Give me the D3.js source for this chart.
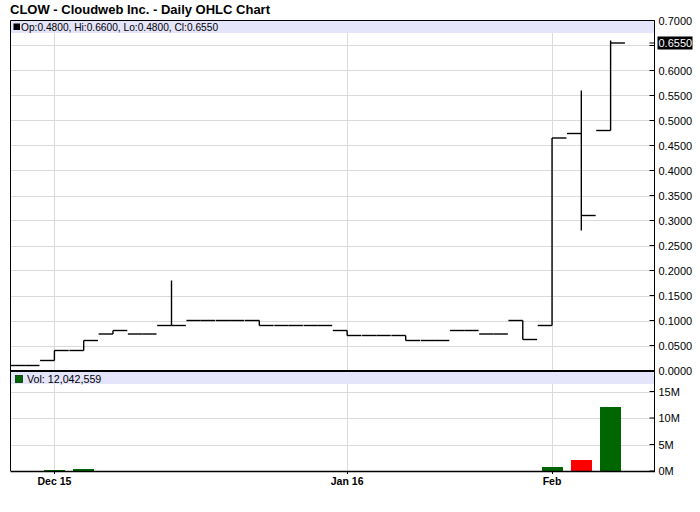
<!DOCTYPE html>
<html><head><meta charset="utf-8">
<script src="https://cdn.jsdelivr.net/npm/d3@7"></script>
<style>
html,body{margin:0;padding:0;background:#fff;}
svg{display:block;font-family:"Liberation Sans",Arial,sans-serif;}
</style></head>
<body>
<svg id="chart" width="700" height="512"></svg>
<script>
// ---- data ----
const dates = ["2014-12-12","2014-12-15","2014-12-16","2014-12-18","2014-12-19","2014-12-22","2014-12-23","2014-12-26","2014-12-30","2015-01-05","2015-01-09","2015-01-16","2015-01-20","2015-01-21","2015-01-22","2015-01-23","2015-01-26","2015-01-27","2015-02-02","2015-02-03","2015-02-04"];
const open  = [0.0100,0.0200,0.0400,0.0730,0.0730,0.0900,0.1000,0.1000,0.1000,0.0900,0.0900,0.0800,0.0700,0.0700,0.0600,0.0800,0.0730,0.1000,0.0900,0.4740,0.4800];
const high  = [0.0100,0.0400,0.0600,0.0800,0.0730,0.1800,0.1000,0.1000,0.1000,0.0900,0.0900,0.0800,0.0700,0.0700,0.0600,0.0800,0.0730,0.1000,0.4650,0.5600,0.6600];
const low   = [0.0100,0.0200,0.0400,0.0730,0.0730,0.0900,0.1000,0.1000,0.0900,0.0900,0.0900,0.0700,0.0700,0.0600,0.0600,0.0800,0.0730,0.0620,0.0900,0.2800,0.4800];
const close = [0.0100,0.0400,0.0600,0.0800,0.0730,0.0900,0.1000,0.1000,0.0900,0.0900,0.0900,0.0700,0.0700,0.0600,0.0600,0.0800,0.0730,0.0620,0.4650,0.3100,0.6550];
const volume = [15000,200000,420000,30000,10000,25000,20000,12000,18000,10000,15000,22000,10000,14000,9000,20000,12000,30000,760000,2080000,12042559];
const priceTicks = [0,0.05,0.1,0.15,0.2,0.25,0.3,0.35,0.4,0.45,0.5,0.55,0.6,0.65,0.7];
const volTicks = [0,5e6,10e6,15e6];
const xTickDates = ["2014-12-15","2015-01-16","2015-02-02"];
const xTickLabels = ["Dec 15","Jan 16","Feb"];
const title = "CLOW - Cloudweb Inc. - Daily OHLC Chart";

// ---- layout ----
const L = 10.5, R = 654.5, T = 20.5, SEP = 371, B = 471;
const svg = d3.select("#chart");
const n = dates.length;
const x = d3.scaleLinear().domain([-0.5, n + 0.5]).range([L, R]);
const step = x(1) - x(0);
const yP = d3.scaleLinear().domain([0, 0.7]).range([370.5, T]);
const yV = d3.scaleLinear().domain([0, 15e6]).range([B, 391.5]);
const gridC = "#dadada";
const last = n - 1;

// title
svg.append("text").attr("x", 10).attr("y", 14).attr("font-size", 13).attr("font-weight", "bold").text(title);

// grid - price
svg.append("g").selectAll("line").data(priceTicks.filter(v => v > 0 && v < 0.7)).join("line")
  .attr("x1", L).attr("x2", R).attr("y1", d => Math.round(yP(d)) + 0.5).attr("y2", d => Math.round(yP(d)) + 0.5)
  .attr("stroke", gridC).attr("stroke-width", 1);
// grid - volume
svg.append("g").selectAll("line").data(volTicks.filter(v => v > 0)).join("line")
  .attr("x1", L).attr("x2", R).attr("y1", d => Math.round(yV(d)) + 0.5).attr("y2", d => Math.round(yV(d)) + 0.5)
  .attr("stroke", gridC);
// vertical grid
const xIdx = xTickDates.map(d => dates.indexOf(d));
svg.append("g").selectAll("line").data(xIdx).join("line")
  .attr("x1", d => Math.round(x(d)) + 0.5).attr("x2", d => Math.round(x(d)) + 0.5)
  .attr("y1", T).attr("y2", B).attr("stroke", gridC);

// legend bands
svg.append("rect").attr("x", L + 0.5).attr("y", 21).attr("width", R - L - 1).attr("height", 12).attr("fill", "#e4e4fb");
svg.append("rect").attr("x", L + 0.5).attr("y", 372).attr("width", R - L - 1).attr("height", 12).attr("fill", "#e4e4fb");
svg.append("rect").attr("x", 13.5).attr("y", 23.5).attr("width", 6.5).attr("height", 6.5).attr("fill", "#000");
svg.append("text").attr("x", 21).attr("y", 31).attr("font-size", 10.2)
  .text(`Op:${open[last].toFixed(4)}, Hi:${high[last].toFixed(4)}, Lo:${low[last].toFixed(4)}, Cl:${close[last].toFixed(4)}`);
svg.append("rect").attr("x", 15.5).attr("y", 375.5).attr("width", 7).attr("height", 7).attr("fill", "#006600").attr("stroke", "#003300").attr("stroke-width", 0.8);
svg.append("text").attr("x", 27).attr("y", 382.5).attr("font-size", 10.7)
  .text("Vol: " + d3.format(",")(volume[last]));

// volume bars
const bw = step * 0.72;
svg.append("g").selectAll("rect").data(d3.range(n)).join("rect")
  .attr("x", i => x(i) - bw / 2).attr("width", bw)
  .attr("y", i => yV(volume[i])).attr("height", i => yV(0) - yV(volume[i]))
  .attr("fill", i => close[i] >= open[i] ? "#006600" : "#ff0000")
  .attr("shape-rendering", "crispEdges");

// OHLC bars
const g = svg.append("g").attr("stroke", "#000").attr("stroke-width", 1.4).attr("fill", "none");
const tick = step * 0.49;
g.selectAll("line.hl").data(d3.range(n).filter(i => high[i] !== low[i])).join("line").attr("class", "hl")
  .attr("x1", i => x(i)).attr("x2", i => x(i)).attr("y1", i => yP(high[i])).attr("y2", i => yP(low[i]));
g.selectAll("line.op").data(d3.range(n)).join("line").attr("class", "op")
  .attr("x1", i => x(i) - tick).attr("x2", i => x(i)).attr("y1", i => yP(open[i])).attr("y2", i => yP(open[i]));
g.selectAll("line.cl").data(d3.range(n)).join("line").attr("class", "cl")
  .attr("x1", i => x(i)).attr("x2", i => x(i) + tick).attr("y1", i => yP(close[i])).attr("y2", i => yP(close[i]));

// frame
svg.append("line").attr("x1", L).attr("x2", R).attr("y1", T).attr("y2", T).attr("stroke", "#000").attr("stroke-width", 1);
svg.append("line").attr("x1", L).attr("x2", L).attr("y1", T).attr("y2", B).attr("stroke", "#000").attr("stroke-width", 1);
svg.append("line").attr("x1", R).attr("x2", R).attr("y1", T).attr("y2", B).attr("stroke", "#000").attr("stroke-width", 1);
svg.append("line").attr("x1", L).attr("x2", R).attr("y1", SEP).attr("y2", SEP).attr("stroke", "#000").attr("stroke-width", 2);
svg.append("line").attr("x1", L).attr("x2", R + 0.5).attr("y1", B + 0.5).attr("y2", B + 0.5).attr("stroke", "#000").attr("stroke-width", 1.5);

// right price axis
const lc = yP(close[last]);
const pa = svg.append("g");
pa.selectAll("line").data(priceTicks).join("line")
  .attr("x1", R - 5).attr("x2", R).attr("y1", d => yP(d)).attr("y2", d => yP(d)).attr("stroke", "#000");
pa.selectAll("text").data(priceTicks.filter(d => Math.abs(yP(d) - lc) > 11)).join("text")
  .attr("x", R + 4).attr("y", d => yP(d) + 4).attr("font-size", 11).text(d => d.toFixed(4));
// last close highlight
svg.append("line").attr("x1", R - 5).attr("x2", R).attr("y1", lc).attr("y2", lc).attr("stroke", "#000");
svg.append("rect").attr("x", R + 3).attr("y", lc - 6.5).attr("width", 35).attr("height", 13).attr("fill", "#000");
svg.append("text").attr("x", R + 4).attr("y", lc + 4).attr("font-size", 11).attr("fill", "#fff").text(close[last].toFixed(4));

// right volume axis
const va = svg.append("g");
va.selectAll("line").data(volTicks).join("line")
  .attr("x1", R - 5).attr("x2", R).attr("y1", d => yV(d)).attr("y2", d => yV(d)).attr("stroke", "#000");
va.selectAll("text").data(volTicks).join("text")
  .attr("x", R + 4).attr("y", d => yV(d) + 4).attr("font-size", 11).text(d => (d / 1e6) + "M");

// bottom axis labels
const xa = svg.append("g");
xa.selectAll("line").data(xIdx).join("line")
  .attr("x1", i => Math.round(x(i)) + 0.5).attr("x2", i => Math.round(x(i)) + 0.5).attr("y1", B).attr("y2", B + 3).attr("stroke", "#000");
xa.selectAll("text").data(xIdx).join("text")
  .attr("x", i => x(i)).attr("y", 485).attr("text-anchor", "middle").attr("font-size", 10.5).attr("font-weight", "bold")
  .text((i, k) => xTickLabels[k]);
</script>
</body></html>
